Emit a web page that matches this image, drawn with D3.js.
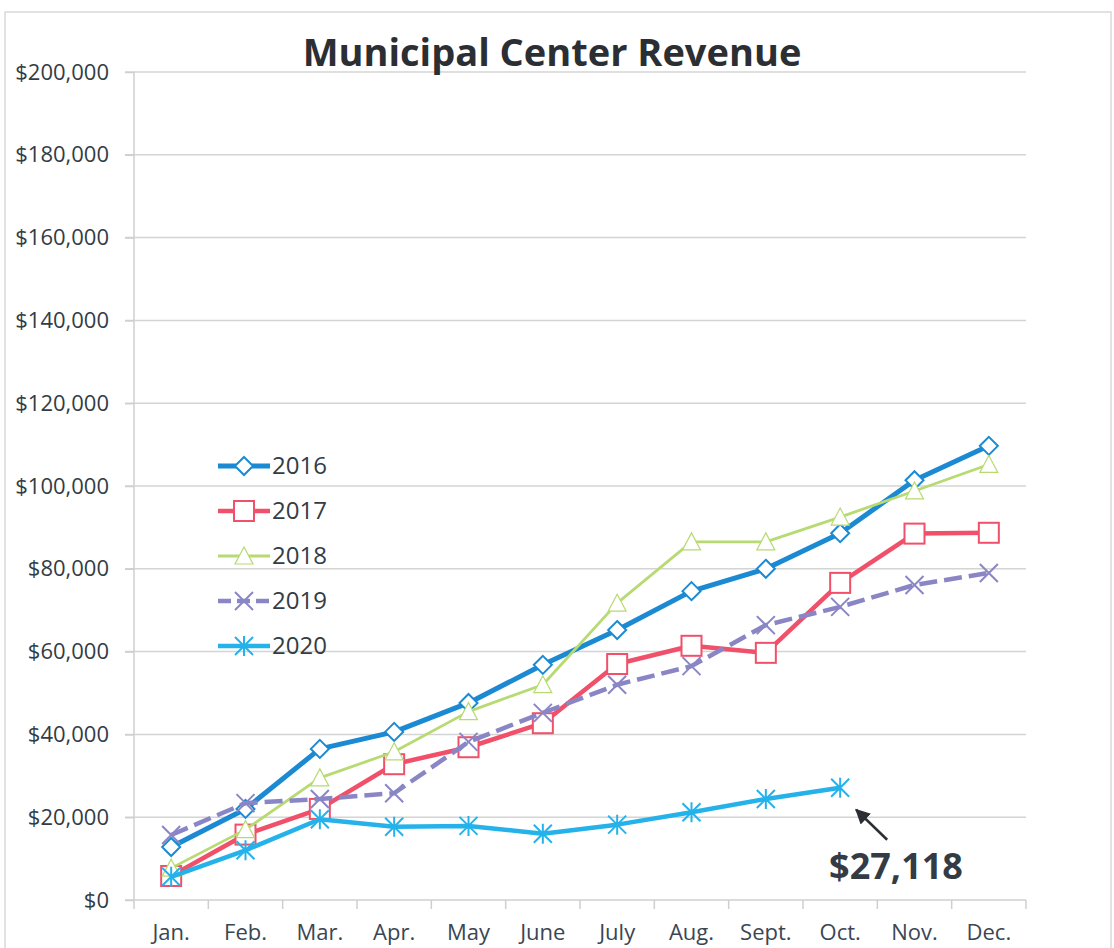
<!DOCTYPE html>
<html>
<head>
<meta charset="utf-8">
<script src="https://cdn.jsdelivr.net/npm/d3@7"></script>
<style>
  body { margin: 0; background: #fff; }
  svg text { font-family: "Open Sans", "Noto Sans", sans-serif; fill: #333c45; }
  .grid line { stroke: #d4d4d4; stroke-width: 1.5; }
  .axis path, .axis line { stroke: #cfcfcf; stroke-width: 1.5; }
</style>
</head>
<body>
<svg id="chart"></svg>
<script>
const months = ["Jan.", "Feb.", "Mar.", "Apr.", "May", "June", "July", "Aug.", "Sept.", "Oct.", "Nov.", "Dec."];
const yTicks = [0, 20000, 40000, 60000, 80000, 100000, 120000, 140000, 160000, 180000, 200000];

const rev2016 = [12800, 22000, 36500, 40600, 47600, 56800, 65200, 74600, 80000, 88600, 101400, 109700];
const rev2017 = [5800, 15800, 22000, 32800, 36900, 42700, 57000, 61400, 59700, 76600, 88500, 88700];
const rev2018 = [7700, 17000, 29500, 35800, 45500, 52000, 71700, 86500, 86500, 92500, 98800, 105200];
const rev2019 = [15700, 23400, 24400, 25800, 38200, 45200, 52000, 56500, 66400, 70800, 76100, 79000];
const rev2020 = [5600, 12000, 19500, 17700, 17900, 16000, 18200, 21200, 24400, 27118];

const series = [
  { name: "2016", values: rev2016, color: "#1b8ad3", width: 5, dash: null, marker: "diamond" },
  { name: "2017", values: rev2017, color: "#f0506a", width: 4.5, dash: null, marker: "square" },
  { name: "2018", values: rev2018, color: "#b8da72", width: 2.8, dash: null, marker: "triangle" },
  { name: "2019", values: rev2019, color: "#8a86c6", width: 4.5, dash: "18,7", marker: "x" },
  { name: "2020", values: rev2020, color: "#25b2ea", width: 4.5, dash: null, marker: "star" }
];

const W = 1114, H = 948;
const margin = { top: 72, right: 88, bottom: 48, left: 134 };
const width = W - margin.left - margin.right;
const height = H - margin.top - margin.bottom;

const svg = d3.select("#chart").attr("width", W).attr("height", H);

// frame
svg.append("rect")
  .attr("x", 5).attr("y", 12).attr("width", 1106).attr("height", 950)
  .attr("fill", "none").attr("stroke", "#d9d9d9").attr("stroke-width", 1.5);

const g = svg.append("g").attr("transform", "translate(" + margin.left + "," + margin.top + ")");

const x = d3.scaleBand().domain(months).range([0, width]);
const y = d3.scaleLinear().domain([0, 200000]).range([height, 0]);

// gridlines
g.append("g").attr("class", "grid")
  .selectAll("line").data(yTicks.filter(d => d > 0)).enter().append("line")
  .attr("x1", -9).attr("x2", width)
  .attr("y1", d => y(d)).attr("y2", d => y(d));

// y axis
const yAxis = g.append("g").attr("class", "axis")
  .call(d3.axisLeft(y).tickValues(yTicks).tickSize(9).tickPadding(16)
    .tickFormat(d => "$" + d3.format(",")(d)));
yAxis.select(".domain").attr("d", "M0," + height + "V0");
yAxis.selectAll("text").style("font-size", "22px").style("fill", "#333c45");

// x axis with ticks at category boundaries
const xAxis = g.append("g").attr("class", "axis")
  .attr("transform", "translate(0," + height + ")")
  .call(d3.axisBottom(x).tickSize(0).tickPadding(24));
xAxis.select(".domain").attr("d", "M-9,0H" + width);
xAxis.selectAll("text").style("font-size", "22px").style("fill", "#3a4654");
xAxis.selectAll(".bnd").data(d3.range(months.length + 1)).enter().append("line")
  .attr("class", "bnd")
  .attr("x1", i => i * x.bandwidth()).attr("x2", i => i * x.bandwidth())
  .attr("y1", 0).attr("y2", 9);

const cx = (d, i) => x(months[i]) + x.bandwidth() / 2;

function drawMarker(sel, type, color) {
  const s = 9;
  if (type === "diamond") {
    sel.append("path").attr("d", `M0,${-s}L${s},0L0,${s}L${-s},0Z`)
      .attr("fill", "#fff").attr("stroke", color).attr("stroke-width", 2);
  } else if (type === "square") {
    sel.append("rect").attr("x", -s - 1).attr("y", -s - 1).attr("width", 2 * s + 2).attr("height", 2 * s + 2)
      .attr("fill", "#fff").attr("stroke", color).attr("stroke-width", 2);
  } else if (type === "triangle") {
    sel.append("path").attr("d", `M0,${-s}L${s},${s - 1}L${-s},${s - 1}Z`)
      .attr("fill", "#fff").attr("stroke", color).attr("stroke-width", 1.2);
  } else if (type === "x") {
    sel.append("path").attr("d", `M${-s},${-s}L${s},${s}M${s},${-s}L${-s},${s}`)
      .attr("stroke", color).attr("stroke-width", 2);
  } else if (type === "star") {
    sel.append("path").attr("d", `M${-s},${-s}L${s},${s}M${s},${-s}L${-s},${s}M0,${-s - 1}V${s + 1}`)
      .attr("stroke", color).attr("stroke-width", 2);
  }
}

const line = d3.line().x(cx).y(d => y(d));

series.forEach(s => {
  g.append("path")
    .datum(s.values)
    .attr("fill", "none")
    .attr("stroke", s.color)
    .attr("stroke-width", s.width)
    .attr("stroke-linejoin", "round")
    .attr("stroke-dasharray", s.dash)
    .attr("d", line);
  g.selectAll(".m" + s.name).data(s.values).enter().append("g")
    .attr("transform", (d, i) => "translate(" + cx(d, i) + "," + y(d) + ")")
    .each(function () { drawMarker(d3.select(this), s.marker, s.color); });
});

// legend
const legend = svg.append("g").attr("transform", "translate(218,466)");
series.forEach((s, i) => {
  const row = legend.append("g").attr("transform", "translate(0," + i * 45 + ")");
  row.append("line").attr("x1", 0).attr("x2", 52).attr("y1", 0).attr("y2", 0)
    .attr("stroke", s.color).attr("stroke-width", s.width)
    .attr("stroke-dasharray", s.dash ? "13,6" : null);
  const m = row.append("g").attr("transform", "translate(26,0)");
  drawMarker(m, s.marker, s.color);
  row.append("text").attr("x", 54).attr("y", 8).style("font-size", "24px").text(s.name);
});

// title
svg.append("text")
  .attr("x", 552).attr("y", 66).attr("text-anchor", "middle")
  .style("font-size", "38px").style("font-weight", "bold").style("fill", "#2b2f33")
  .text("Municipal Center Revenue");

// annotation for last 2020 value
const lastIdx = rev2020.length - 1;
const ax = cx(null, lastIdx) + margin.left, ay = y(rev2020[lastIdx]) + margin.top;
svg.append("defs").append("marker")
  .attr("id", "arrow").attr("viewBox", "0 0 10 10").attr("refX", 9).attr("refY", 5)
  .attr("markerWidth", 6).attr("markerHeight", 6).attr("orient", "auto")
  .append("path").attr("d", "M0,0L10,5L0,10Z").attr("fill", "#2b2f33");
svg.append("line")
  .attr("x1", ax + 47).attr("y1", ay + 52).attr("x2", ax + 16).attr("y2", ay + 22)
  .attr("stroke", "#2b2f33").attr("stroke-width", 2.5).attr("marker-end", "url(#arrow)");
svg.append("text")
  .attr("x", 896).attr("y", 879).attr("text-anchor", "middle")
  .style("font-size", "36px").style("font-weight", "bold").style("fill", "#333c45")
  .text("$" + d3.format(",")(rev2020[lastIdx]));
</script>
</body>
</html>
